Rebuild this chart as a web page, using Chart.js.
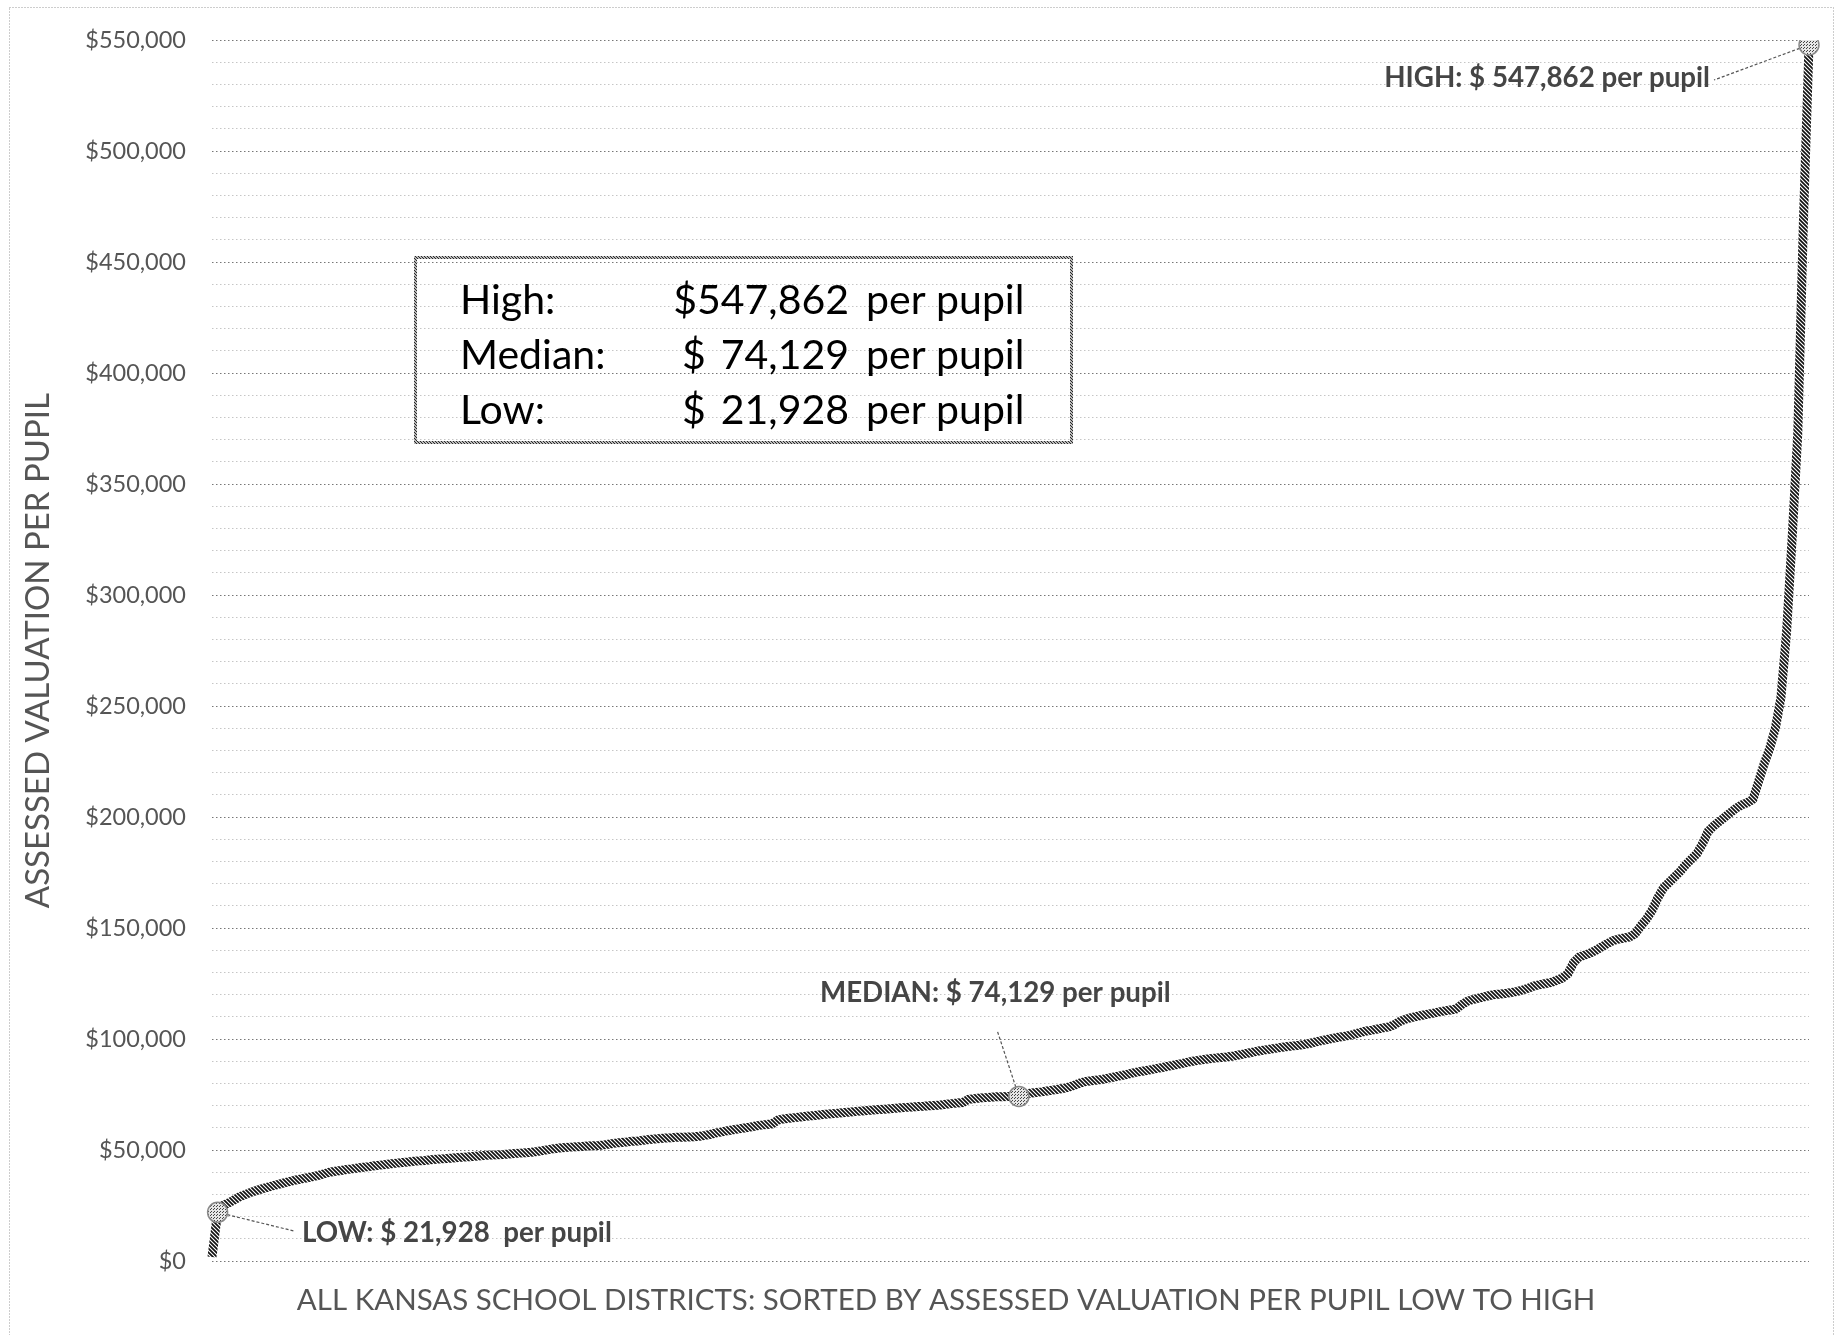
<!DOCTYPE html>
<html>
<head>
<meta charset="utf-8">
<title>Assessed valuation per pupil</title>
<script src="https://cdn.jsdelivr.net/npm/chart.js@4.4.1/dist/chart.umd.min.js"></script>
<style>
    html, body { margin: 0; padding: 0; background: #fff; }
    #wrap { position: relative; width: 1843px; height: 1335px; }
</style>
</head>
<body>
<div id="wrap"><canvas id="valuationChart" width="1843" height="1335"></canvas></div>
<script>
// Valor tasado por alumno de cada distrito, ordenado de menor a mayor
const valuation = [
    1800, 21928, 25000, 26200, 27600, 29000, 30000, 31000, 31800, 32600,
    33300, 34000, 34600, 35300, 35900, 36500, 37000, 37500, 38000, 38600,
    39300, 40000, 40400, 40800, 41200, 41500, 41900, 42200, 42500, 42900,
    43200, 43500, 43800, 44100, 44400, 44600, 44900, 45100, 45300, 45600,
    45800, 46000, 46200, 46400, 46600, 46800, 47000, 47200, 47400, 47600,
    47700, 47900,
    48000, 48200, 48400, 48600, 48800, 49000, 49300, 49700, 50200, 50600,
    50900, 51100, 51300, 51500, 51600, 51800, 51900, 52000, 52300, 52700,
    53100, 53400, 53600, 53900, 54100, 54400, 54700, 55000, 55200, 55400,
    55500, 55700, 55800, 55900, 56000, 56200, 56600, 57100, 57700, 58200,
    58700, 59100, 59500, 59900, 60300, 60800, 61200, 61500, 61800, 63500,
    64000, 64300, 64600, 64900, 65200, 65400, 65700, 66000, 66200, 66400,
    66700, 66900, 67100, 67400, 67600, 67800, 68000, 68200, 68400, 68600,
    68800, 69000, 69200, 69400, 69600, 69700, 69900, 70100, 70300, 70600,
    70900, 71200, 71400, 72800, 73100, 73400, 73600, 73800, 74000,
    74000, 74050, 74100, 74129, 75100, 75600, 75900, 76200, 76600, 77000,
    77400, 77800, 78400, 79300, 80300, 80900, 81200, 81500, 81900, 82400,
    82900, 83400, 83900, 84500, 85100, 85500, 85900, 86400, 86900, 87400,
    87900, 88400, 88900, 89500, 90000, 90400, 90800, 91100, 91400, 91700,
    91900, 92200, 92700, 93200, 93700, 94200, 94700, 95100, 95500, 95900,
    96300, 96600, 96900, 97200, 97600, 98100, 98700, 99300, 99800, 100300,
    100800, 101200, 101600, 102300, 103000, 103600, 104000, 104500, 105000, 105500,
    106500, 108000, 108900, 109600, 110200, 110700, 111200, 111700, 112200, 112700,
    113100, 113500, 115500, 117000, 117800, 118400, 119000, 119600, 120100,
    120300, 120600, 121000, 121500, 122200, 123000, 124000, 124500, 125000, 125500,
    126500, 127500, 129500, 134500, 137000, 137800, 138800, 140000, 141500, 143000,
    144300, 145000, 145500, 146000, 147500, 151000, 154000, 158000, 163500, 168000,
    170500, 173000, 175500, 178500, 181000, 183500, 188000, 193500, 196000, 198000,
    200000, 202000, 204000, 205500, 206500, 208000, 216000, 224000, 231000, 240000,
    254000, 283500, 326000, 373000, 468000, 547862
];
const districts = valuation.map((v, i) => i + 1);

// Puntos destacados: bajo, mediana y alto
const lowIdx = 1;
const medianIdx = 144;
const highIdx = valuation.length - 1;
const markerIdx = [lowIdx, medianIdx, highIdx];

// Eje Y
const yMax = 550000;
const yStep = 10000;
const yLabelStep = 50000;

const summaryLabels = ['High:', 'Median:', 'Low:'];
const summaryValues = [valuation[highIdx], valuation[medianIdx], valuation[lowIdx]];

const yTitle = 'ASSESSED VALUATION PER PUPIL';
const xTitle = 'ALL KANSAS SCHOOL DISTRICTS: SORTED BY ASSESSED VALUATION PER PUPIL LOW TO HIGH';

const money = v => v.toLocaleString('en-US');

const canvas = document.getElementById('valuationChart');
const ctx = canvas.getContext('2d');

// Trama rayada (diagonal) como en la imagen original
function makeHatch(ink, paper, size, width) {
    const c = document.createElement('canvas');
    c.width = c.height = size;
    const g = c.getContext('2d');
    if (paper) {
        g.fillStyle = paper;
        g.fillRect(0, 0, size, size);
    }
    g.strokeStyle = ink;
    g.lineWidth = width;
    g.beginPath();
    g.moveTo(-1, -1); g.lineTo(size + 1, size + 1);
    g.moveTo(-1, size - 1); g.lineTo(1, size + 1);
    g.moveTo(size - 1, -1); g.lineTo(size + 1, 1);
    g.stroke();
    return ctx.createPattern(c, 'repeat');
}

function makeDots(ink, paper) {
    const c = document.createElement('canvas');
    c.width = c.height = 3;
    const g = c.getContext('2d');
    g.fillStyle = paper;
    g.fillRect(0, 0, 3, 3);
    g.fillStyle = ink;
    g.fillRect(0, 0, 1, 1);
    g.fillRect(1, 2, 1, 1);
    return ctx.createPattern(c, 'repeat');
}

const lineHatch = makeHatch('#111', '#fff', 4, 1.7);
const boxHatch = makeHatch('#222', '#fff', 3, 1.2);
const markerDots = makeDots('#444', '#e6e6e6');

// Anotaciones y cuadro de resumen
const calloutPlugin = {
    id: 'callouts',
    beforeDraw(chart) {
        const c = chart.ctx;
        c.save();
        c.strokeStyle = '#9a9a9a';
        c.lineWidth = 1;
        c.setLineDash([1, 2]);
        c.strokeRect(9.5, 7.5, 1824, 1360);
        c.restore();
    },
    beforeDatasetsDraw(chart) {
        const c = chart.ctx;
        const pts = chart.getDatasetMeta(0).data;
        const links = [
            [pts[lowIdx], 294, 1231],
            [pts[medianIdx], 997, 1030],
            [pts[highIdx], 1714, 80]
        ];
        c.save();
        c.strokeStyle = '#555';
        c.lineWidth = 1.2;
        c.setLineDash([3, 2]);
        links.forEach(([p, x, y]) => {
            c.beginPath();
            c.moveTo(p.x, p.y);
            c.lineTo(x, y);
            c.stroke();
        });
        c.restore();
    },
    afterDraw(chart) {
        const c = chart.ctx;
        c.save();

        // Etiquetas de los puntos
        c.fillStyle = '#454545';
        c.font = 'bold 27.7px Lato';
        c.textBaseline = 'middle';
        c.textAlign = 'left';
        c.fillText('LOW: $ ' + money(valuation[lowIdx]) + '  per pupil', 302, 1233);
        c.fillText('MEDIAN: $ ' + money(valuation[medianIdx]) + ' per pupil', 820, 993);
        c.textAlign = 'right';
        c.fillText('HIGH: $ ' + money(valuation[highIdx]) + ' per pupil', 1710, 78);

        // Título del eje X
        c.fillStyle = '#555';
        c.font = '29.5px Lato';
        c.textAlign = 'center';
        c.fillText(xTitle, 946, 1300);

        // Cuadro de resumen
        c.strokeStyle = boxHatch;
        c.lineWidth = 3;
        c.strokeRect(415.5, 257.5, 656, 185);
        c.fillStyle = '#000';
        c.font = '41px Lato';
        const rowsY = [301, 356, 411];
        summaryLabels.forEach((lbl, i) => {
            c.textAlign = 'left';
            c.fillText(lbl, 460, rowsY[i]);
            c.textAlign = 'right';
            if (i === 0) {
                c.fillText('$' + money(summaryValues[i]), 849, rowsY[i]);
            } else {
                c.fillText(money(summaryValues[i]), 849, rowsY[i]);
                c.textAlign = 'left';
                c.fillText('$', 682, rowsY[i]);
            }
            c.textAlign = 'left';
            c.fillText('per pupil', 866, rowsY[i]);
        });
        c.restore();
    }
};

new Chart(ctx, {
    type: 'line',
    data: {
        labels: districts,
        datasets: [{
            data: valuation,
            borderColor: lineHatch,
            borderWidth: 9,
            tension: 0,
            pointRadius: c => markerIdx.includes(c.dataIndex) ? 10 : 0,
            pointBackgroundColor: markerDots,
            pointBorderColor: '#8a8a8a',
            pointBorderWidth: 1.5
        }]
    },
    options: {
        responsive: false,
        animation: false,
        events: [],
        layout: { padding: { left: 0, top: 38, right: 34, bottom: 74 } },
        plugins: {
            legend: { display: false },
            tooltip: { enabled: false }
        },
        scales: {
            x: { display: false },
            y: {
                min: 0,
                max: yMax,
                afterFit: s => { s.width = 212; },
                border: { display: false, dash: [1.5, 2.5] },
                grid: {
                    drawTicks: false,
                    lineWidth: 1,
                    color: c => c.tick && c.tick.value % yLabelStep === 0 ? '#777' : '#c6c6c6'
                },
                ticks: {
                    stepSize: yStep,
                    autoSkip: false,
                    padding: 26,
                    color: '#555',
                    font: { family: 'Lato', size: 23.5 },
                    callback: v => v % yLabelStep === 0 ? '$' + money(v) : ''
                },
                title: {
                    display: true,
                    text: yTitle,
                    color: '#555',
                    font: { family: 'Lato', size: 33 },
                    padding: { top: 19, bottom: 0 }
                }
            }
        }
    },
    plugins: [calloutPlugin]
});
</script>
</body>
</html>
